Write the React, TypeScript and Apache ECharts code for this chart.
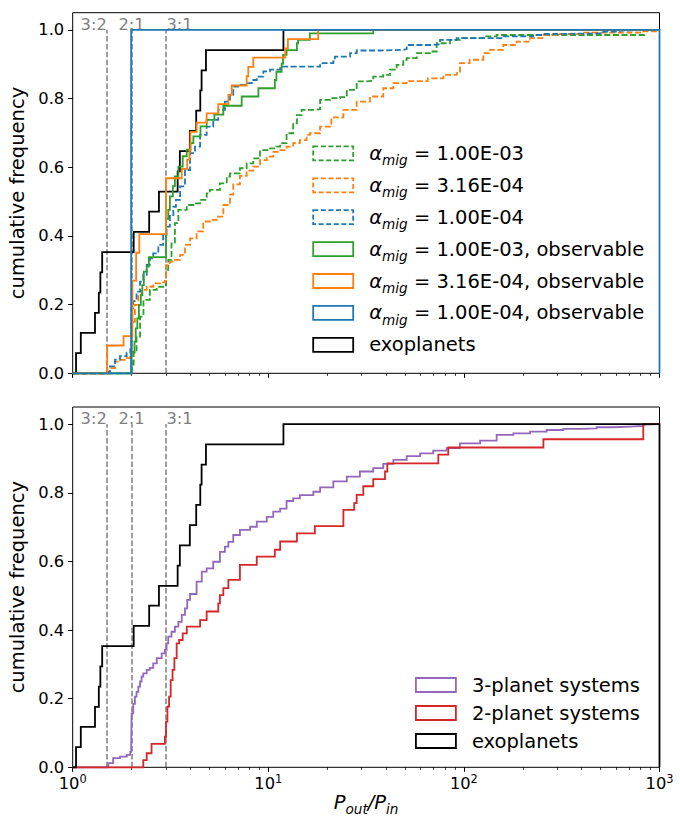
import { useEffect, useRef } from 'react';
import * as echarts from 'echarts';

const FONT = '"DejaVu Sans", sans-serif';

// Mean-motion resonance guides
const resonanceRatios = [1.5, 2, 3];
const resonanceNames = ['3:2', '2:1', '3:1'];

// Axis ticks
const xMajorTicks = [1, 10, 100, 1000];
const xMinorTicks = [2, 3, 4, 5, 6, 7, 8, 9, 20, 30, 40, 50, 60, 70, 80, 90, 200, 300, 400, 500, 600, 700, 800, 900];
const yTicks = [0, 0.2, 0.4, 0.6, 0.8, 1.0];

const migrationRates = ['1.00E-03', '3.16E-04', '1.00E-04'];

// Each curve: period ratio where the cumulative fraction steps up, and the fraction after the step
// Observed exoplanet pairs
const exoRatio = [1.04, 1.10, 1.30, 1.36, 1.385, 1.415, 2.05, 2.46, 2.76, 3.44, 3.53, 3.97, 4.28, 4.49, 4.56, 4.80, 11.95];
const exoFrac = [0.059, 0.118, 0.176, 0.235, 0.294, 0.353, 0.412, 0.471, 0.529, 0.588, 0.647, 0.706, 0.765, 0.824, 0.882, 0.941, 1.0];

// alpha_mig = 1.00E-03, all pairs
const allRatioA = [2.0, 2.05, 2.12, 2.21, 2.30, 2.48, 2.69, 2.96, 3.0, 3.08, 3.20, 3.33, 3.47, 3.83, 4.14, 4.48, 4.84, 5.03, 5.66, 6.13, 6.37, 7.16, 7.75, 8.38, 9.07, 10.0, 11.0, 11.5, 12.4, 13.4, 14.0, 14.8, 17.0, 18.4, 20.7, 23.3, 25.2, 28.3, 31.8, 34.4, 38.7, 41.9, 45.3, 49.0, 51.0, 57.4, 67.1, 72.6, 84.9, 95.5, 125.6, 147, 836];
const allFracA = [0.02, 0.06, 0.107, 0.165, 0.214, 0.243, 0.252, 0.257, 0.301, 0.330, 0.378, 0.437, 0.476, 0.490, 0.495, 0.505, 0.524, 0.534, 0.553, 0.573, 0.582, 0.597, 0.611, 0.626, 0.650, 0.655, 0.660, 0.670, 0.699, 0.728, 0.752, 0.767, 0.769, 0.796, 0.801, 0.804, 0.825, 0.850, 0.852, 0.864, 0.869, 0.884, 0.898, 0.913, 0.918, 0.932, 0.937, 0.961, 0.971, 0.976, 0.981, 0.985, 1.0];

// alpha_mig = 3.16E-04, all pairs
const allRatioB = [1.5, 1.55, 1.645, 1.745, 1.887, 1.97, 2.0, 2.08, 2.165, 2.25, 2.39, 2.58, 2.795, 2.96, 3.0, 3.14, 3.33, 3.54, 3.75, 3.98, 4.30, 4.65, 5.03, 5.44, 5.89, 6.37, 6.62, 7.16, 7.75, 8.38, 9.07, 9.82, 10.6, 11.5, 12.4, 13.4, 14.5, 15.7, 16.3, 18.4, 21.0, 24.2, 28.3, 33.1, 38.7, 43.6, 51.0, 65.3, 78.5, 91.8, 95.5, 107, 125.6, 136, 159, 186, 218, 255, 310, 408, 826, 990];
const allFracB = [0.005, 0.015, 0.034, 0.039, 0.044, 0.053, 0.150, 0.199, 0.228, 0.243, 0.252, 0.262, 0.265, 0.269, 0.315, 0.325, 0.330, 0.345, 0.374, 0.393, 0.413, 0.442, 0.447, 0.456, 0.490, 0.520, 0.550, 0.575, 0.590, 0.602, 0.621, 0.631, 0.645, 0.650, 0.660, 0.670, 0.679, 0.694, 0.699, 0.718, 0.745, 0.767, 0.791, 0.806, 0.830, 0.845, 0.851, 0.859, 0.869, 0.874, 0.903, 0.913, 0.932, 0.942, 0.956, 0.966, 0.976, 0.985, 0.988, 0.992, 0.996, 1.0];

// alpha_mig = 1.00E-04, all pairs
const allRatioC = [1.5, 1.55, 1.645, 1.745, 1.887, 1.97, 2.0, 2.04, 2.12, 2.21, 2.295, 2.39, 2.48, 2.58, 2.74, 2.90, 3.02, 3.14, 3.27, 3.37, 3.54, 3.75, 3.98, 4.22, 4.48, 4.84, 5.23, 5.55, 6.0, 6.37, 6.62, 7.16, 7.75, 8.23, 8.73, 9.43, 10.2, 11.5, 18.4, 21.5, 21.9, 26.2, 28.3, 37.2, 49.0, 51.0, 69.7, 75.5, 91.8, 159, 226, 255, 298, 516, 628, 653];
const allFracC = [0.005, 0.02, 0.04, 0.05, 0.06, 0.07, 0.19, 0.21, 0.238, 0.267, 0.287, 0.316, 0.335, 0.349, 0.374, 0.403, 0.427, 0.461, 0.485, 0.505, 0.544, 0.592, 0.641, 0.660, 0.694, 0.718, 0.738, 0.767, 0.791, 0.811, 0.835, 0.840, 0.845, 0.854, 0.864, 0.879, 0.884, 0.893, 0.903, 0.908, 0.922, 0.932, 0.940, 0.942, 0.944, 0.956, 0.958, 0.971, 0.976, 0.981, 0.985, 0.988, 0.990, 0.995, 0.998, 1.0];

// alpha_mig = 1.00E-03, observable pairs
const obsRatioA = [2.0, 2.07, 2.10, 2.14, 2.18, 2.23, 2.27, 2.31, 2.39, 2.45, 3.0, 3.08, 3.14, 3.25, 3.33, 3.47, 3.65, 3.83, 4.0, 4.14, 4.5, 4.84, 5.3, 5.89, 7.31, 8.9, 10.8, 11.0, 11.7, 11.9, 12.4, 14.0, 14.2, 16.3, 34.4];
const obsFracA = [0.063, 0.092, 0.131, 0.160, 0.199, 0.228, 0.257, 0.296, 0.311, 0.338, 0.45, 0.476, 0.515, 0.545, 0.573, 0.602, 0.632, 0.651, 0.670, 0.690, 0.719, 0.738, 0.753, 0.779, 0.806, 0.830, 0.854, 0.878, 0.902, 0.927, 0.941, 0.961, 0.971, 0.990, 1.0];

// alpha_mig = 3.16E-04, observable pairs
const obsRatioB = [1.5, 1.82, 2.02, 2.11, 2.19, 3.0, 3.61, 3.85, 3.95, 4.0, 4.3, 4.84, 5.55, 6.25, 6.5, 7.75, 7.9, 8.38, 12.2, 12.6, 18.0];
const obsFracB = [0.081, 0.108, 0.270, 0.351, 0.405, 0.568, 0.595, 0.622, 0.649, 0.703, 0.730, 0.757, 0.784, 0.811, 0.838, 0.865, 0.892, 0.919, 0.946, 0.973, 1.0];

// alpha_mig = 1.00E-04, observable pairs
const obsRatioC = [1.99];
const obsFracC = [1.0];

// Synthetic 3-planet systems
const threeRatio = [1.5, 1.52, 1.61, 1.745, 1.887, 1.97, 1.99, 2.0, 2.04, 2.08, 2.12, 2.165, 2.21, 2.25, 2.295, 2.39, 2.48, 2.58, 2.69, 2.85, 2.96, 3.02, 3.08, 3.20, 3.33, 3.47, 3.61, 3.75, 3.85, 3.98, 4.30, 4.57, 4.84, 5.23, 5.66, 6.0, 6.25, 6.62, 7.16, 8.07, 8.73, 9.82, 10.6, 11.5, 12.4, 13.4, 14.5, 17.0, 18.4, 21.5, 25.2, 29.4, 34.4, 38.7, 43.6, 51.0, 59.7, 69.7, 81.6, 95.5, 121, 147, 179, 218, 265, 322, 392, 477, 580, 706, 826, 850];
const threeFrac = [0.003, 0.012, 0.027, 0.031, 0.036, 0.045, 0.05, 0.157, 0.185, 0.206, 0.22, 0.235, 0.25, 0.264, 0.274, 0.284, 0.29, 0.303, 0.318, 0.332, 0.342, 0.361, 0.381, 0.395, 0.410, 0.424, 0.444, 0.463, 0.488, 0.505, 0.541, 0.570, 0.580, 0.599, 0.628, 0.643, 0.657, 0.677, 0.692, 0.701, 0.716, 0.730, 0.745, 0.754, 0.776, 0.784, 0.793, 0.803, 0.816, 0.833, 0.847, 0.862, 0.872, 0.884, 0.896, 0.907, 0.915, 0.923, 0.930, 0.944, 0.952, 0.969, 0.973, 0.978, 0.983, 0.986, 0.988, 0.991, 0.993, 0.995, 0.999, 1.0];

// Synthetic 2-planet systems
const twoRatio = [2.295, 2.39, 2.53, 2.96, 3.0, 3.05, 3.11, 3.17, 3.24, 3.31, 3.40, 3.50, 3.65, 3.83, 4.48, 4.84, 5.55, 5.66, 5.89, 6.25, 7.16, 8.73, 10.8, 11.5, 14.0, 17.3, 24.2, 27.5, 28.3, 30.6, 34.4, 39.5, 40.6, 74.0, 83.2, 255, 826];
const twoFrac = [0.021, 0.041, 0.068, 0.089, 0.133, 0.177, 0.206, 0.254, 0.284, 0.318, 0.361, 0.371, 0.390, 0.410, 0.429, 0.454, 0.478, 0.502, 0.522, 0.546, 0.590, 0.614, 0.634, 0.658, 0.682, 0.703, 0.750, 0.770, 0.794, 0.819, 0.840, 0.862, 0.886, 0.911, 0.932, 0.956, 1.0];

const C_BLUE = '#1f77b4';
const C_ORANGE = '#ff7f0e';
const C_GREEN = '#2ca02c';
const C_RED = '#d62728';
const C_PURPLE = '#9467bd';
const C_GRAY = '#7f7f7f';
const rateColors = [C_GREEN, C_ORANGE, C_BLUE];

const X_MIN = 1;
const X_MAX = 1000;

// Cumulative step outline: flat at zero from the left edge, a riser at every step,
// flat to the right edge. The uppermost curve of a panel also closes back down at the right edge
// (histogram-step style); underneath ones would be hidden there anyway.
function stepOutline(ratios: number[], fracs: number[], closeRight: boolean): number[][] {
  const pts: number[][] = [[X_MIN, 0]];
  let prev = 0;
  ratios.forEach((r, i) => {
    pts.push([r, prev]);
    pts.push([r, fracs[i]]);
    prev = fracs[i];
  });
  pts.push([X_MAX, prev]);
  if (closeRight) pts.push([X_MAX, 0]);
  return pts;
}

const DASH = [6, 2.6];

function curve(
  name: string,
  ratios: number[],
  fracs: number[],
  color: string,
  dashed: boolean,
  panel: number,
  z: number,
  closeRight = false,
) {
  return {
    type: 'line',
    name,
    z,
    data: stepOutline(ratios, fracs, closeRight),
    xAxisIndex: panel * 2,
    yAxisIndex: panel,
    symbol: 'none',
    showSymbol: false,
    clip: false,
    silent: true,
    lineStyle: { color, width: 1.8, type: dashed ? DASH : 'solid', join: 'miter', cap: 'butt' },
    itemStyle: { color },
    emphasis: { disabled: true },
  };
}

const labelShift = [-13.5, 0, 13.5];

function resonanceGuides(panel: number) {
  return {
    type: 'line',
    name: 'resonances',
    z: 2,
    data: [],
    xAxisIndex: panel * 2,
    yAxisIndex: panel,
    silent: true,
    markLine: {
      silent: true,
      z: 2,
      symbol: ['none', 'none'],
      animation: false,
      lineStyle: { color: C_GRAY, width: 1.5, type: [5.5, 2.4] },
      label: {
        show: true,
        position: 'end',
        formatter: '{b}',
        color: C_GRAY,
        fontFamily: FONT,
        fontSize: 16.3,
      },
      emphasis: { disabled: true },
      data: resonanceRatios.map((r, i) => [
        { coord: [r, 0], name: resonanceNames[i], label: { offset: [labelShift[i], 7.5] } },
        { coord: [r, 1.0] },
      ]),
    },
  };
}

const grids = [
  { left: 72.7, top: 12.7, width: 586.8, height: 360.6 },
  { left: 72.7, top: 407, width: 586.8, height: 360.3 },
];

function xAxes(panel: number, withLabels: boolean) {
  const common = {
    type: 'log',
    logBase: 10,
    min: X_MIN,
    max: X_MAX,
    gridIndex: panel,
    position: 'bottom',
    offset: 0,
    axisLine: { show: false },
    splitLine: { show: false },
    minorSplitLine: { show: false },
  };
  return [
    {
      ...common,
      axisTick: { show: true, customValues: xMajorTicks, length: 4.5, lineStyle: { color: '#000', width: 1 } },
      axisLabel: withLabels
        ? {
            show: true,
            customValues: xMajorTicks,
            margin: 6,
            formatter: (v: number) => `{b|10}{e|${Math.round(Math.log10(v))}}`,
            rich: {
              b: { fontFamily: FONT, fontSize: 16.3, lineHeight: 20, color: '#000' },
              e: { fontFamily: FONT, fontSize: 11.4, lineHeight: 12, color: '#000', verticalAlign: 'top' },
            },
          }
        : { show: false },
      name: withLabels ? '{p|P}{s|out}{p|/P}{s|in}' : '',
      nameLocation: 'middle',
      nameGap: 20,
      nameTextStyle: {
        rich: {
          p: { fontFamily: FONT, fontSize: 19.5, fontStyle: 'italic', lineHeight: 28, color: '#000' },
          s: { fontFamily: FONT, fontSize: 13.6, fontStyle: 'italic', lineHeight: 14, color: '#000', verticalAlign: 'bottom' },
        },
      },
    },
    {
      ...common,
      axisTick: { show: true, customValues: xMinorTicks, length: 2.6, lineStyle: { color: '#000', width: 0.8 } },
      axisLabel: { show: false },
    },
  ];
}

function yAxis(panel: number) {
  return {
    type: 'value',
    gridIndex: panel,
    min: 0,
    max: 1.05,
    axisLine: { show: false },
    splitLine: { show: false },
    axisTick: { show: true, customValues: yTicks, length: 4.5, lineStyle: { color: '#000', width: 1 } },
    axisLabel: {
      show: true,
      customValues: yTicks,
      margin: 8.5,
      formatter: (v: number) => v.toFixed(1),
      fontFamily: FONT,
      fontSize: 16.3,
      color: '#000',
    },
    name: 'cumulative frequency',
    nameLocation: 'middle',
    nameGap: 43,
    nameTextStyle: { fontFamily: FONT, fontSize: 19.5, color: '#000' },
  };
}

const simNames = migrationRates.map((r) => `α_mig = ${r}`);
const obsNames = migrationRates.map((r) => `α_mig = ${r}, observable`);
const simRatios = [allRatioA, allRatioB, allRatioC];
const simFracs = [allFracA, allFracB, allFracC];
const obsRatios = [obsRatioA, obsRatioB, obsRatioC];
const obsFracs = [obsFracA, obsFracB, obsFracC];

function legendItem(name: string, color: string, dashed: boolean) {
  return {
    name,
    icon: 'rect',
    itemStyle: {
      color: 'rgba(0,0,0,0)',
      borderColor: color,
      borderWidth: 1.8,
      borderType: dashed ? [5, 2.6] : 'solid',
    },
  };
}

const legendFormatter = (name: string) => {
  if (name.startsWith('α_mig = ')) {
    return `{sp| }{g|α}{s|mig}{t| = ${name.slice('α_mig = '.length)}}`;
  }
  return `{sp| }{t|${name}}`;
};

function legendRich(lineHeight: number) {
  return {
    sp: { width: 11, fontSize: 10, lineHeight },
    g: { fontFamily: FONT, fontSize: 19.5, fontStyle: 'italic', lineHeight, color: '#000' },
    s: { fontFamily: FONT, fontSize: 13.6, fontStyle: 'italic', lineHeight: 14, color: '#000', verticalAlign: 'bottom' },
    t: { fontFamily: FONT, fontSize: 19.5, lineHeight, color: '#000' },
  };
}

const option = {
  animation: false,
  backgroundColor: '#ffffff',
  textStyle: { fontFamily: FONT },
  grid: grids.map((g) => ({
    ...g,
    show: true,
    borderColor: '#000',
    borderWidth: 1,
    backgroundColor: 'rgba(0,0,0,0)',
    containLabel: false,
    outerBoundsMode: 'none',
  })),
  xAxis: [...xAxes(0, false), ...xAxes(1, true)],
  yAxis: [yAxis(0), yAxis(1)],
  legend: [
    {
      orient: 'vertical',
      left: 312.3,
      top: 143.4,
      padding: 0,
      itemWidth: 40,
      itemHeight: 14,
      itemGap: 7.9,
      selectedMode: false,
      data: [
        ...simNames.map((n, i) => legendItem(n, rateColors[i], true)),
        ...obsNames.map((n, i) => legendItem(n, rateColors[i], false)),
        legendItem('exoplanets', '#000', false),
      ],
      formatter: legendFormatter,
      textStyle: { rich: legendRich(28) },
    },
    {
      orient: 'vertical',
      left: 415,
      top: 675,
      padding: 0,
      itemWidth: 40,
      itemHeight: 14,
      itemGap: 8,
      selectedMode: false,
      data: [
        legendItem('3-planet systems', C_PURPLE, false),
        legendItem('2-planet systems', C_RED, false),
        legendItem('exoplanets', '#000', false),
      ],
      formatter: legendFormatter,
      textStyle: { rich: legendRich(22) },
    },
  ],
  series: [
    resonanceGuides(0),
    curve('exoplanets', exoRatio, exoFrac, '#000', false, 0, 3),
    ...simNames.map((n, i) => curve(n, simRatios[i], simFracs[i], rateColors[i], true, 0, 4 + i)),
    ...obsNames.map((n, i) => curve(n, obsRatios[i], obsFracs[i], rateColors[i], false, 0, 7 + i, i === 2)),
    resonanceGuides(1),
    curve('3-planet systems', threeRatio, threeFrac, C_PURPLE, false, 1, 3),
    curve('2-planet systems', twoRatio, twoFrac, C_RED, false, 1, 4),
    curve('exoplanets', exoRatio, exoFrac, '#000', false, 1, 5, true),
  ],
};

export default function App() {
  const ref = useRef<HTMLDivElement>(null);
  useEffect(() => {
    if (!ref.current) return;
    const chart = echarts.init(ref.current, null, { renderer: 'svg' });
    chart.setOption(option as any);
    return () => chart.dispose();
  }, []);
  return (
    <div
      ref={ref}
      style={{ position: 'fixed', left: 0, top: 0, width: 680, height: 818, background: '#fff' }}
    />
  );
}
